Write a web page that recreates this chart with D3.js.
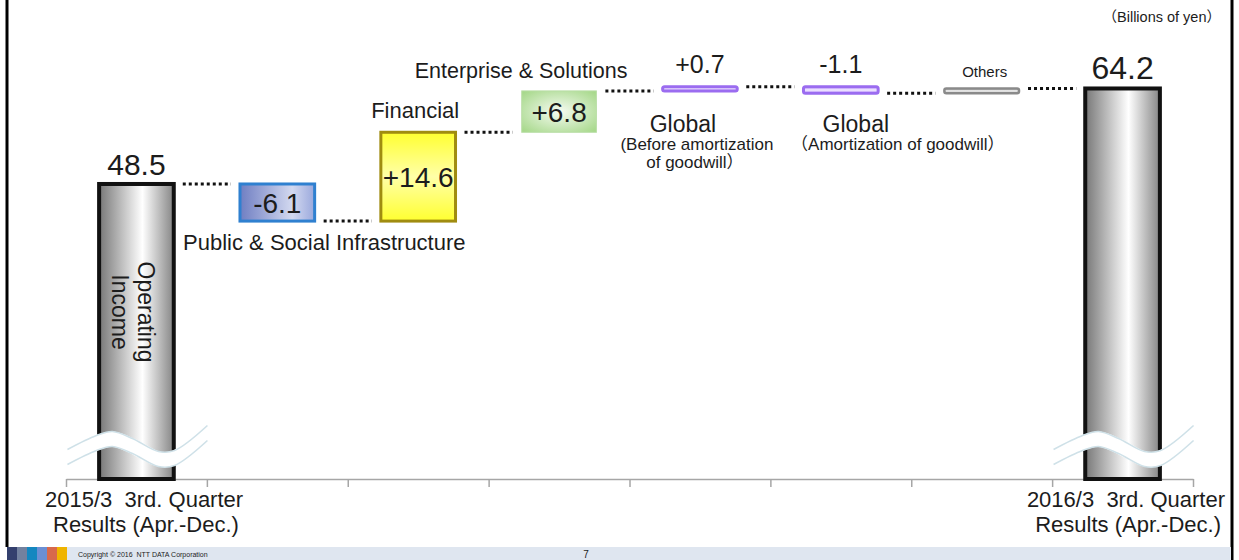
<!DOCTYPE html>
<html>
<head>
<meta charset="utf-8">
<script src="https://cdn.jsdelivr.net/npm/d3@7"></script>
<style>
  body { margin: 0; background: #fff; }
  svg text { font-family: "Liberation Sans", Arial, "Noto Sans CJK JP", sans-serif; fill: #1c1c1c; }
</style>
</head>
<body>
<div id="chart"></div>
<script>
// --- Daten ---
const kategorien = ["2015/3", "Public", "Financial", "Enterprise", "GlobalVor", "GlobalAbschr", "Others", "2016/3"];
const werte = [48.5, -6.1, 14.6, 6.8, 0.7, -1.1, 0.8, 64.2];
const typen = ["total", "delta", "delta", "delta", "delta", "delta", "delta", "total"];
const wertLabels = ["48.5", "-6.1", "+14.6", "+6.8", "+0.7", "-1.1", "", "64.2"];
const kategorieLabels = [
    ["2015/3  3rd. Quarter", "Results (Apr.-Dec.)"],
    ["Public & Social Infrastructure"],
    ["Financial"],
    ["Enterprise & Solutions"],
    ["Global", "(Before amortization", "of goodwill）"],
    ["Global", "（Amortization of goodwill）"],
    ["Others"],
    ["2016/3  3rd. Quarter", "Results (Apr.-Dec.)"]
];
const balkenText = ["Operating", "Income"];
const einheit = "（Billions of yen）";
const copyright = "Copyright © 2016  NTT DATA Corporation";
const seite = "7";

const breite = 1239, hoehe = 560;

const svg = d3.select("#chart")
    .append("svg")
    .attr("width", breite)
    .attr("height", hoehe);

// Skalen
const x = d3.scaleBand()
    .domain(kategorien)
    .range([66, 1193])
    .paddingInner(0.47)
    .paddingOuter(0.235);

const y = d3.scaleLinear()
    .domain([0, 70])
    .range([479, 53.2]);

// laufende Summe für Wasserfall
let summe = 0;
const balken = werte.map((v, i) => {
    let start, ende;
    if (typen[i] === "total") { start = 0; ende = v; }
    else { start = summe; ende = summe + v; }
    summe = ende;
    return { kat: kategorien[i], i, wert: v, typ: typen[i], start, ende, label: wertLabels[i] };
});

// --- Farbverläufe ---
const defs = svg.append("defs");
function verlauf(id, stops, vertikal) {
    const g = defs.append("linearGradient").attr("id", id)
        .attr("x1", 0).attr("y1", 0)
        .attr("x2", vertikal ? 0 : 1).attr("y2", vertikal ? 1 : 0);
    stops.forEach(s => g.append("stop").attr("offset", s[0]).attr("stop-color", s[1]));
}
verlauf("gGrau", [[0, "#777"], [0.58, "#fff"], [1, "#858585"]]);
verlauf("gBlau", [[0, "#6f7ec2"], [0.7, "#d3d9f0"], [1, "#9aa8dc"]]);
verlauf("gGelb", [[0, "#ffff30"], [0.5, "#ffffa8"], [1, "#ffff30"]], true);
const rg = defs.append("radialGradient").attr("id", "gGruen").attr("r", "0.75");
rg.append("stop").attr("offset", 0).attr("stop-color", "#f6fbf2");
rg.append("stop").attr("offset", 1).attr("stop-color", "#9dd47e");
verlauf("gLila", [[0, "#c9a8ff"], [0.5, "#f0e8ff"], [1, "#c9a8ff"]], true);
verlauf("gGrauFlach", [[0, "#b0b0b0"], [0.5, "#eeeeee"], [1, "#b0b0b0"]], true);

const fuellung = ["url(#gGrau)", "url(#gBlau)", "url(#gGelb)", "url(#gGruen)", "url(#gLila)", "url(#gLila)", "url(#gGrauFlach)", "url(#gGrau)"];
const rand = ["#111", "#2f80d0", "#a08c10", "#b9dea6", "#9b6cf0", "#9b6cf0", "#8a8a8a", "#111"];
const randBreite = [4, 3, 3, 1, 3, 3, 2.5, 4];

// --- Achse (nur Linie + Trennstriche) ---
const xTicks = d3.scaleLinear().domain([0, kategorien.length]).range(x.range());
svg.append("g")
    .attr("transform", `translate(0,${y(0)})`)
    .call(d3.axisBottom(xTicks).tickValues(d3.range(kategorien.length + 1)).tickFormat("").tickSizeInner(8).tickSizeOuter(0))
    .call(g => g.selectAll("path, line").attr("stroke", "#a6a6a6").attr("stroke-width", 1.5));

// --- Verbindungslinien (gepunktet) ---
svg.selectAll("line.verbinder")
    .data(balken.slice(0, -1))
    .enter()
    .append("line")
    .attr("class", "verbinder")
    .attr("x1", d => x(d.kat) + x.bandwidth() + 9)
    .attr("x2", d => x(kategorien[d.i + 1]) - 9)
    .attr("y1", d => y(d.ende))
    .attr("y2", d => y(d.ende))
    .attr("stroke", "#111")
    .attr("stroke-width", 3)
    .attr("stroke-dasharray", "3,3");

// --- Balken ---
svg.selectAll("rect.balken")
    .data(balken)
    .enter()
    .append("rect")
    .attr("class", "balken")
    .attr("x", d => x(d.kat))
    .attr("width", x.bandwidth())
    .attr("y", d => y(Math.max(d.start, d.ende)))
    .attr("height", d => Math.abs(y(d.start) - y(d.ende)))
    .attr("rx", d => d.typ === "delta" && Math.abs(d.wert) < 2 ? 2 : 0)
    .attr("fill", d => fuellung[d.i])
    .attr("stroke", d => rand[d.i])
    .attr("stroke-width", d => randBreite[d.i]);

// --- Achsenbruch (Welle) auf den Summenbalken ---
const welle = d3.line().curve(d3.curveCatmullRom);
const wellePunkte = [[-69, 10], [-40, -4], [-24, -8], [-4, -1], [22, 12], [38, 11], [71, -14]];
balken.filter(d => d.typ === "total").forEach(d => {
    const cx = x(d.kat) + x.bandwidth() / 2, cy = 447;
    const pts = wellePunkte.map(p => [cx + p[0], cy + p[1]]);
    svg.append("path").attr("d", welle(pts)).attr("fill", "none").attr("stroke", "#fff").attr("stroke-width", 15);
    [-7.5, 7.5].forEach(o => {
        svg.append("path").attr("d", welle(pts.map(p => [p[0], p[1] + o])))
            .attr("fill", "none").attr("stroke", "#cfe1e8").attr("stroke-width", 1.6);
    });
});

// --- Wertbeschriftungen ---
balken.forEach(d => {
    if (!d.label) return;
    const cx = x(d.kat) + x.bandwidth() / 2;
    const oben = y(Math.max(d.start, d.ende)), unten = y(Math.min(d.start, d.ende));
    let ty, fs = 28;
    if (d.typ === "total") { ty = oben - 9; fs = d.i === 0 ? 30 : 32; }
    else if (Math.abs(d.wert) < 2) { ty = oben - 14; fs = 25; }
    else { ty = (oben + unten) / 2 + 10; }
    svg.append("text")
        .attr("x", cx)
        .attr("y", ty)
        .attr("text-anchor", "middle")
        .style("font-size", fs + "px")
        .text(d.label);
});

// --- Kategoriebeschriftungen ---
const c = i => x(kategorien[i]) + x.bandwidth() / 2;
function zeile(txt, px, py, fs, anker) {
    svg.append("text")
        .attr("x", px).attr("y", py)
        .attr("text-anchor", anker || "middle")
        .style("font-size", fs + "px")
        .style("white-space", "pre")
        .text(txt);
}
zeile(kategorieLabels[0][0], 45, 507, 22, "start");
zeile(kategorieLabels[0][1], 53, 532, 22, "start");
zeile(kategorieLabels[1][0], c(1) + 47, 250, 22);
zeile(kategorieLabels[2][0], c(2) - 3, 118, 22);
zeile(kategorieLabels[3][0], c(3) - 38, 78, 21.5);
zeile(kategorieLabels[4][0], c(4) - 17, 132, 23);
zeile(kategorieLabels[4][1], c(4) - 3, 150, 17);
zeile(kategorieLabels[4][2], c(4) - 5, 168, 17);
zeile(kategorieLabels[5][0], c(5) + 15, 132, 23);
zeile(kategorieLabels[5][1], c(5) + 57, 150, 17);
zeile(kategorieLabels[6][0], c(6) + 3, 77, 15);
zeile(kategorieLabels[7][0], 1225, 507, 22, "end");
zeile(kategorieLabels[7][1], 1221, 532, 22, "end");

// gedrehter Text im ersten Balken
[[balkenText[0], c(0) + 2], [balkenText[1], c(0) - 24]].forEach(t => {
    svg.append("text")
        .attr("transform", `translate(${t[1]},312) rotate(90)`)
        .attr("text-anchor", "middle")
        .style("font-size", "23px")
        .text(t[0]);
});

// Einheit oben rechts
zeile(einheit, 1221, 22, 14.5, "end");

// --- Rahmen & Fußzeile ---
svg.append("line").attr("x1", 7).attr("x2", 7).attr("y1", 0).attr("y2", 547).attr("stroke", "#000").attr("stroke-width", 3);
svg.append("line").attr("x1", 1232).attr("x2", 1232).attr("y1", 0).attr("y2", 560).attr("stroke", "#000").attr("stroke-width", 3);
svg.append("rect").attr("x", 8).attr("y", 547).attr("width", 1223).attr("height", 13).attr("fill", "#dfe6f0");
const fussFarben = ["#34406e", "#72819f", "#1487c0", "#6b8fd4", "#d8694c", "#efb400"];
fussFarben.forEach((f, i) => {
    svg.append("rect").attr("x", 7 + i * 10).attr("y", 547).attr("width", 10).attr("height", 13).attr("fill", f);
});
zeile(copyright, 78, 557, 7, "start");
zeile(seite, 586, 558, 10, "middle");
</script>
</body>
</html>
